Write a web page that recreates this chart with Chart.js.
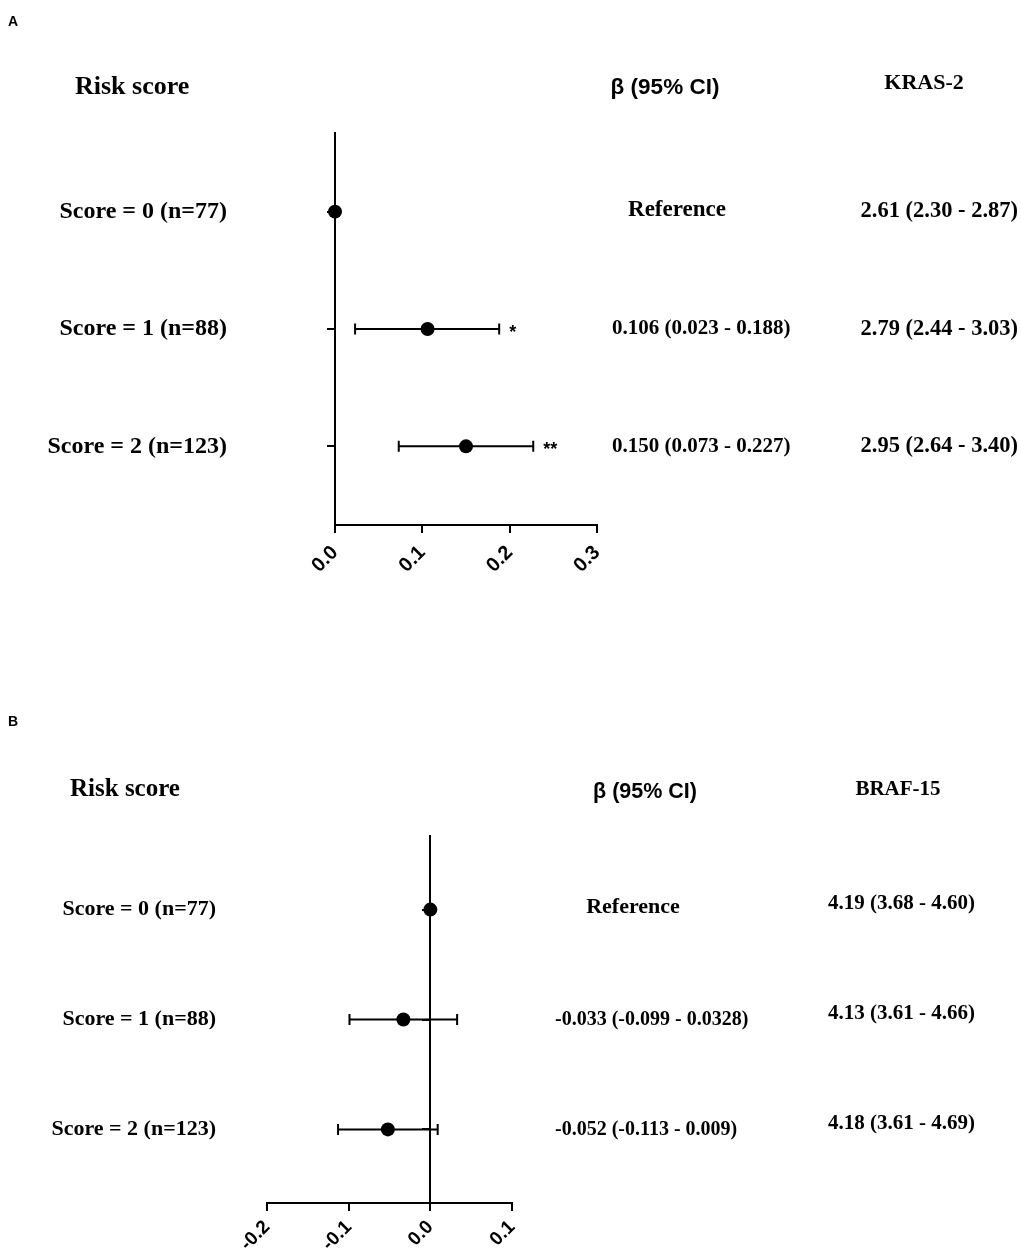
<!DOCTYPE html>
<html>
<head>
<meta charset="utf-8">
<title>Risk score forest plots</title>
<script src="https://cdn.jsdelivr.net/npm/chart.js@4.4.1/dist/chart.umd.min.js"></script>
<style>
  html, body { margin: 0; padding: 0; background: #ffffff; overflow: hidden; }
  canvas { display: block; }
</style>
</head>
<body>
<canvas id="panel-a" width="1021" height="640"></canvas>
<canvas id="panel-b" width="1021" height="612"></canvas>

<script>
// ---- data ----
const rowLabels = ['Score = 0 (n=77)', 'Score = 1 (n=88)', 'Score = 2 (n=123)'];
const rowIndex = [0, 1, 2];

// Panel A: KRAS-2
const krasBeta = [0, 0.106, 0.150];
const krasLow = [null, 0.023, 0.073];
const krasHigh = [null, 0.188, 0.227];
const krasBetaText = ['Reference', '0.106 (0.023 - 0.188)', '0.150 (0.073 - 0.227)'];
const krasLevel = ['2.61 (2.30 - 2.87)', '2.79 (2.44 - 3.03)', '2.95 (2.64 - 3.40)'];
const krasStars = ['', '*', '**'];
const krasTicks = [0, 0.1, 0.2, 0.3];

// Panel B: BRAF-15
const brafBeta = [0, -0.033, -0.052];
const brafLow = [null, -0.099, -0.113];
const brafHigh = [null, 0.0328, 0.009];
const brafBetaText = ['Reference', '-0.033 (-0.099 - 0.0328)', '-0.052 (-0.113 - 0.009)'];
const brafLevel = ['4.19 (3.68 - 4.60)', '4.13 (3.61 - 4.66)', '4.18 (3.61 - 4.69)'];
const brafStars = ['', '', ''];
const brafTicks = [-0.2, -0.1, 0, 0.1];

const SERIF = '"Liberation Serif", "Times New Roman", serif';
const SANS = '"Liberation Sans", Arial, sans-serif';

/**
 * Error bars, asterisks and the text columns, placed with the chart's scales
 */
const forestPlugin = {
    id: 'forest',
    afterDatasetsDraw(chart, args, opts) {
        const ctx = chart.ctx;
        const xs = chart.scales.x;
        const ys = chart.scales.y;
        ctx.save();
        ctx.strokeStyle = '#000';
        ctx.lineWidth = 2;
        opts.low.forEach((lo, i) => {
            const hi = opts.high[i];
            if (lo === null || hi === null) return;
            const y = ys.getPixelForValue(rowIndex[i]);
            const x1 = xs.getPixelForValue(lo);
            const x2 = xs.getPixelForValue(hi);
            ctx.beginPath();
            ctx.moveTo(x1, y); ctx.lineTo(x2, y);
            ctx.moveTo(x1, y - 5.5); ctx.lineTo(x1, y + 5.5);
            ctx.moveTo(x2, y - 5.5); ctx.lineTo(x2, y + 5.5);
            ctx.stroke();
        });
        ctx.restore();
    },
    afterDraw(chart, args, opts) {
        const ctx = chart.ctx;
        const xs = chart.scales.x;
        const ys = chart.scales.y;
        const L = opts.layout;
        ctx.save();
        ctx.fillStyle = '#000';
        ctx.textBaseline = 'middle';

        // panel letter
        ctx.textAlign = 'left';
        ctx.font = 'bold 14px ' + SANS;
        ctx.fillText(opts.letter, 8, L.letterY);

        // headers
        ctx.font = 'bold ' + L.titleSize + 'px ' + SERIF;
        ctx.fillText('Risk score', L.titleX, L.titleY);
        ctx.textAlign = 'center';
        ctx.font = 'bold ' + L.headSize + 'px ' + SANS;
        ctx.fillText('\u03B2 (95% CI)', L.betaHeadX, L.betaHeadY);
        ctx.font = 'bold ' + L.geneSize + 'px ' + SERIF;
        ctx.fillText(opts.gene, L.geneX, L.geneY);

        rowIndex.forEach((r, i) => {
            const y = ys.getPixelForValue(r);
            // row label
            ctx.textAlign = 'right';
            ctx.font = 'bold ' + L.labelSize + 'px ' + SERIF;
            ctx.fillText(rowLabels[i], L.labelRight, y);
            // beta column
            if (opts.low[i] === null) {
                ctx.textAlign = 'center';
                ctx.font = 'bold ' + L.refSize + 'px ' + SERIF;
                ctx.fillText(opts.betaText[i], L.refX, y - 2);
            } else {
                ctx.textAlign = 'left';
                ctx.font = 'bold ' + L.valSize + 'px ' + SERIF;
                ctx.fillText(opts.betaText[i], L.valX, y);
            }
            // level column
            ctx.textAlign = 'right';
            ctx.font = 'bold ' + L.levelSize + 'px ' + SERIF;
            ctx.fillText(opts.level[i], L.levelRight, y + L.levelDy);
            // significance stars
            if (opts.stars[i]) {
                ctx.textAlign = 'left';
                ctx.font = 'bold 18px ' + SANS;
                ctx.fillText(opts.stars[i], xs.getPixelForValue(opts.high[i]) + 10, y + 4);
            }
        });
        ctx.restore();
    }
};

function makePanel(canvasId, p) {
    const ctx = document.getElementById(canvasId).getContext('2d');
    return new Chart(ctx, {
        type: 'scatter',
        data: {
            datasets: [{
                data: p.beta.map((b, i) => ({ x: b, y: rowIndex[i] })),
                pointRadius: 7,
                pointHoverRadius: 7,
                pointBackgroundColor: '#000',
                pointBorderColor: '#000',
                pointBorderWidth: 0,
                clip: false
            }]
        },
        options: {
            responsive: false,
            animation: false,
            events: [],
            layout: { padding: p.layout.pad },
            plugins: {
                legend: { display: false },
                tooltip: { enabled: false },
                forest: {
                    letter: p.letter,
                    gene: p.gene,
                    low: p.low,
                    high: p.high,
                    betaText: p.betaText,
                    level: p.level,
                    stars: p.stars,
                    layout: p.layout
                }
            },
            scales: {
                x: {
                    type: 'linear',
                    position: 'bottom',
                    min: p.ticks[0],
                    max: p.ticks[p.ticks.length - 1],
                    afterBuildTicks: scale => { scale.ticks = p.ticks.map(v => ({ value: v })); },
                    afterFit: scale => { scale.height = p.layout.xAxisHeight; },
                    grid: { drawOnChartArea: false, drawTicks: true, tickLength: 8, color: '#000', lineWidth: 2 },
                    border: { display: true, color: '#000', width: 2 },
                    ticks: {
                        color: '#000',
                        padding: p.layout.tickPad,
                        autoSkip: false,
                        minRotation: 45,
                        maxRotation: 45,
                        font: { family: SANS, size: p.layout.tickSize, weight: 'bold' },
                        callback: v => v.toFixed(1)
                    }
                },
                y: {
                    type: 'linear',
                    position: { x: 0 },
                    reverse: true,
                    min: -0.67,
                    max: 2.67,
                    afterBuildTicks: scale => { scale.ticks = rowIndex.map(v => ({ value: v })); },
                    afterFit: scale => { scale.width = 0; },
                    grid: { drawOnChartArea: false, drawTicks: true, tickLength: 7, color: '#000', lineWidth: 2 },
                    border: { display: true, color: '#000', width: 2 },
                    ticks: { display: false }
                }
            }
        },
        plugins: [forestPlugin]
    });
}

makePanel('panel-a', {
    letter: 'A', gene: 'KRAS-2',
    beta: krasBeta, low: krasLow, high: krasHigh,
    betaText: krasBetaText, level: krasLevel, stars: krasStars, ticks: krasTicks,
    layout: {
        pad: { left: 335, right: 424, top: 133, bottom: 45 },
        xAxisHeight: 70,
        letterY: 22, titleX: 75, titleY: 87, titleSize: 26,
        betaHeadX: 665, betaHeadY: 88, headSize: 22.5,
        geneX: 924, geneY: 83, geneSize: 22,
        labelRight: 227, labelSize: 24,
        refX: 677, refSize: 23, valX: 612, valSize: 21,
        levelRight: 1018, levelSize: 22.5, levelDy: 0,
        tickSize: 20, tickPad: 8
    }
});

makePanel('panel-b', {
    letter: 'B', gene: 'BRAF-15',
    beta: brafBeta, low: brafLow, high: brafHigh,
    betaText: brafBetaText, level: brafLevel, stars: brafStars, ticks: brafTicks,
    layout: {
        pad: { left: 267, right: 509, top: 196, bottom: 0 },
        xAxisHeight: 49,
        letterY: 82, titleX: 70, titleY: 150, titleSize: 25,
        betaHeadX: 645, betaHeadY: 152, headSize: 21.5,
        geneX: 898, geneY: 150, geneSize: 21,
        labelRight: 216, labelSize: 22,
        refX: 633, refSize: 22, valX: 555, valSize: 20,
        levelRight: 975, levelSize: 21, levelDy: -6,
        tickSize: 19, tickPad: 5
    }
});
</script>
</body>
</html>
